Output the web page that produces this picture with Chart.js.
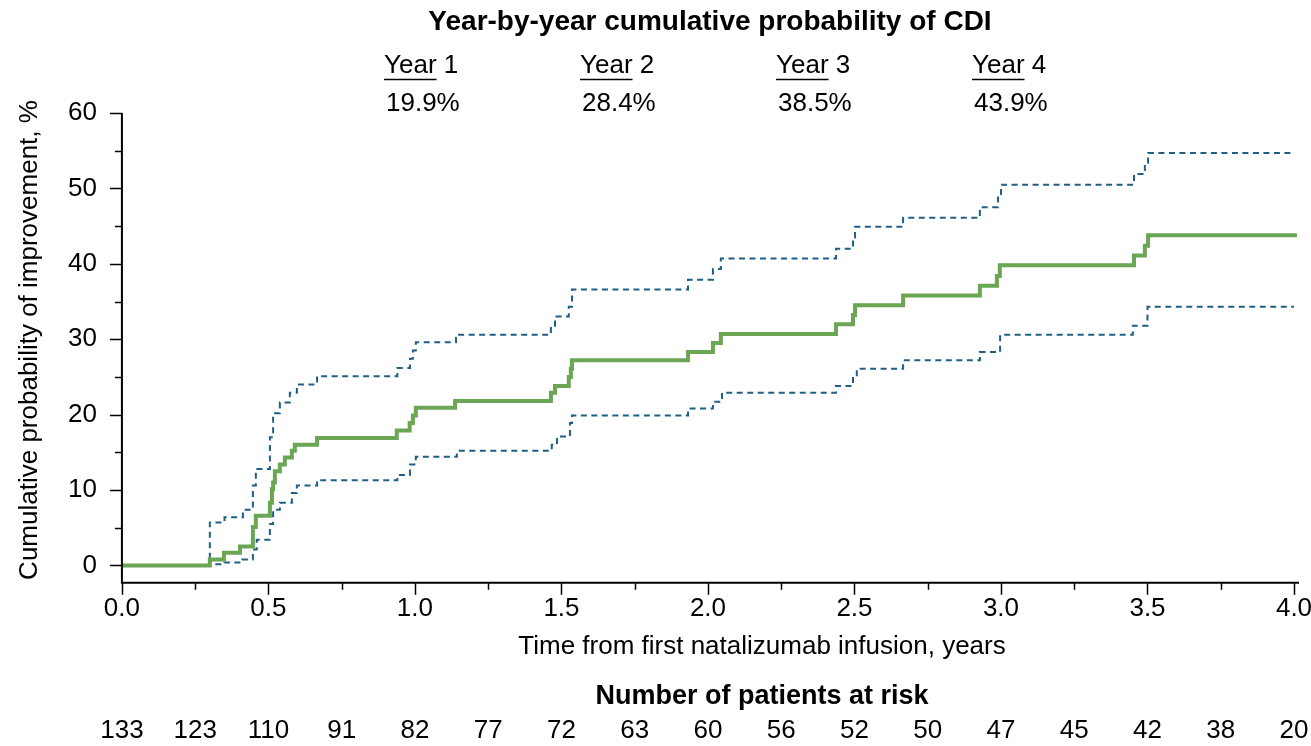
<!DOCTYPE html>
<html>
<head>
<meta charset="utf-8">
<script src="https://cdn.jsdelivr.net/npm/chart.js@4.4.1/dist/chart.umd.min.js"></script>
<style>
  html, body { margin: 0; padding: 0; background: #fff; }
</style>
</head>
<body>
<canvas id="kmChart" width="1311" height="746"></canvas>
<script>
// Kaplan-Meier style cumulative probability of CDI, with 95% CI bounds
const cdiTimes = [0, 0.30, 0.348, 0.403, 0.447, 0.457, 0.505, 0.512, 0.516, 0.522, 0.539, 0.556, 0.58, 0.59, 0.666,
  0.938, 0.982, 0.993, 1.003, 1.137, 1.464, 1.478, 1.525, 1.532, 1.536, 1.932, 2.017, 2.044, 2.437, 2.495, 2.502,
  2.666, 2.928, 2.986, 2.996, 3.454, 3.491, 3.502, 4.01];
const cdiValues = [0, 0.8, 1.7, 2.5, 5.1, 6.6, 8.3, 10.1, 11.0, 12.5, 13.4, 14.3, 15.2, 16.0, 16.9,
  17.9, 18.9, 19.9, 20.9, 21.8, 22.9, 23.8, 25.0, 26.1, 27.2, 28.3, 29.5, 30.7, 32.0, 33.2, 34.5,
  35.8, 37.1, 38.4, 39.8, 41.1, 42.4, 43.8, 43.8];

const upperTimes = [0, 0.30, 0.35, 0.413, 0.447, 0.457, 0.505, 0.516, 0.539, 0.573, 0.597, 0.666, 0.94, 0.983, 0.993,
  1.003, 1.14, 1.464, 1.478, 1.525, 1.536, 1.932, 2.017, 2.044, 2.437, 2.495, 2.502, 2.666, 2.928, 2.99, 3.0,
  3.454, 3.491, 3.502, 4.0];
const upperValues = [0, 5.7, 6.4, 7.4, 10.6, 12.8, 17.0, 20.2, 21.6, 22.9, 24.0, 25.1, 26.2, 27.4, 28.5,
  29.6, 30.6, 31.8, 33.0, 34.3, 36.6, 37.9, 39.3, 40.7, 42.0, 43.5, 44.9, 46.1, 47.5, 49.0, 50.5,
  51.9, 53.4, 54.7, 54.7];

const lowerTimes = [0, 0.30, 0.35, 0.41, 0.447, 0.46, 0.505, 0.516, 0.539, 0.58, 0.597, 0.666, 0.94, 0.983, 1.003,
  1.143, 1.467, 1.485, 1.529, 1.536, 1.932, 2.017, 2.048, 2.437, 2.495, 2.508, 2.666, 2.928, 2.997, 3.45, 3.50, 4.0];
const lowerValues = [0, 0.15, 0.4, 0.8, 2.1, 3.4, 5.5, 7.4, 8.3, 9.6, 10.6, 11.3, 12.0, 13.4, 14.4,
  15.2, 16.0, 17.1, 18.9, 19.9, 20.8, 21.7, 22.9, 23.8, 25.0, 26.1, 27.2, 28.3, 30.6, 31.8, 34.3, 34.3];

const xMajorTicks = [0, 0.5, 1.0, 1.5, 2.0, 2.5, 3.0, 3.5, 4.0];
const xMinorTicks = [0.25, 0.75, 1.25, 1.75, 2.25, 2.75, 3.25, 3.75];
const yMajorTicks = [0, 10, 20, 30, 40, 50, 60];
const yMinorTicks = [5, 15, 25, 35, 45, 55];

const riskTimes = [0, 0.25, 0.5, 0.75, 1.0, 1.25, 1.5, 1.75, 2.0, 2.25, 2.5, 2.75, 3.0, 3.25, 3.5, 3.75, 4.0];
const riskCounts = [133, 123, 110, 91, 82, 77, 72, 63, 60, 56, 52, 50, 47, 45, 42, 38, 20];

const yearLabels = ["1", "2", "3", "4"];
const yearValues = ["19.9%", "28.4%", "38.5%", "43.9%"];

const FONT = "'Liberation Sans', Arial, Helvetica, sans-serif";
const GREEN = "#6aa654";
const BLUE = "#1f5f85";

const toPoints = (xs, ys) => xs.map((x, i) => ({ x: x, y: ys[i] }));

const extrasPlugin = {
  id: "kmExtras",
  afterDraw(chart) {
    const ctx = chart.ctx;
    const xs = chart.scales.x;
    const ys = chart.scales.y;
    const area = chart.chartArea;
    ctx.save();
    ctx.strokeStyle = "#000";
    ctx.lineWidth = 2;
    ctx.lineCap = "butt";

    // axis lines
    ctx.beginPath();
    ctx.moveTo(area.left, ys.getPixelForValue(60));
    ctx.lineTo(area.left, area.bottom);
    ctx.lineTo(area.right + 5, area.bottom);
    ctx.stroke();

    // y ticks
    ctx.lineWidth = 1.5;
    yMajorTicks.forEach(v => {
      const y = Math.round(ys.getPixelForValue(v)) + 0.5;
      ctx.beginPath(); ctx.moveTo(area.left - 12, y); ctx.lineTo(area.left, y); ctx.stroke();
    });
    yMinorTicks.forEach(v => {
      const y = Math.round(ys.getPixelForValue(v)) + 0.5;
      ctx.beginPath(); ctx.moveTo(area.left - 7, y); ctx.lineTo(area.left, y); ctx.stroke();
    });
    // x ticks
    xMajorTicks.forEach(v => {
      const x = Math.round(xs.getPixelForValue(v)) + 0.5;
      ctx.beginPath(); ctx.moveTo(x, area.bottom); ctx.lineTo(x, area.bottom + 12); ctx.stroke();
    });
    xMinorTicks.forEach(v => {
      const x = Math.round(xs.getPixelForValue(v)) + 0.5;
      ctx.beginPath(); ctx.moveTo(x, area.bottom); ctx.lineTo(x, area.bottom + 7); ctx.stroke();
    });

    ctx.fillStyle = "#000";
    ctx.textBaseline = "middle";

    // y axis title
    ctx.save();
    ctx.translate(30, 340);
    ctx.rotate(-Math.PI / 2);
    ctx.textAlign = "center";
    ctx.font = "26px " + FONT;
    ctx.fillText("Cumulative probability of improvement, %", 0, 0);
    ctx.restore();

    // x axis title
    ctx.textAlign = "center";
    ctx.font = "26px " + FONT;
    ctx.fillText("Time from first natalizumab infusion, years", 762, 647);

    // header
    ctx.font = "bold 28px " + FONT;
    ctx.fillText("Year-by-year cumulative probability of CDI", 710, 22);
    ctx.textAlign = "left";
    ctx.font = "26px " + FONT;
    yearLabels.forEach((lab, i) => {
      const left = 384 + i * 196;
      const w = ctx.measureText("Year").width;
      ctx.fillText("Year " + lab, left, 66);
      ctx.beginPath();
      ctx.lineWidth = 1.5;
      ctx.moveTo(left, 79.5);
      ctx.lineTo(left + w, 79.5);
      ctx.stroke();
      ctx.fillText(yearValues[i], left + 2, 104);
    });

    // patients at risk
    ctx.textAlign = "center";
    ctx.font = "bold 27px " + FONT;
    ctx.fillText("Number of patients at risk", 762, 697);
    ctx.font = "26px " + FONT;
    riskTimes.forEach((t, i) => {
      ctx.fillText(String(riskCounts[i]), xs.getPixelForValue(t), 731);
    });
    ctx.restore();
  }
};

new Chart(document.getElementById("kmChart"), {
  type: "line",
  data: {
    datasets: [
      {
        data: toPoints(upperTimes, upperValues),
        borderColor: BLUE,
        borderWidth: 2,
        borderDash: [6, 4.5],
        stepped: true,
        pointRadius: 0,
        fill: false,
        clip: false,
        order: 2
      },
      {
        data: toPoints(lowerTimes, lowerValues),
        borderColor: BLUE,
        borderWidth: 2,
        borderDash: [6, 4.5],
        stepped: true,
        pointRadius: 0,
        fill: false,
        clip: false,
        order: 2
      },
      {
        data: toPoints(cdiTimes, cdiValues),
        borderColor: GREEN,
        borderWidth: 4,
        stepped: true,
        pointRadius: 0,
        fill: false,
        clip: false,
        order: 1
      }
    ]
  },
  options: {
    responsive: false,
    animation: false,
    events: [],
    layout: { padding: { top: 113, left: 43, right: 0, bottom: 112 } },
    plugins: { legend: { display: false }, tooltip: { enabled: false } },
    scales: {
      x: {
        type: "linear",
        min: 0,
        max: 4,
        afterBuildTicks: s => { s.ticks = xMajorTicks.map(v => ({ value: v })); },
        afterFit: s => { s.paddingRight = 17; },
        grid: { display: false, drawTicks: false },
        border: { display: false },
        ticks: {
          padding: 10,
          color: "#000",
          font: { family: FONT, size: 26 },
          maxRotation: 0,
          callback: v => Number(v).toFixed(1)
        }
      },
      y: {
        type: "linear",
        min: -2.3,
        max: 60,
        afterBuildTicks: s => { s.ticks = yMajorTicks.map(v => ({ value: v })); },
        grid: { display: false, drawTicks: false },
        border: { display: false },
        ticks: {
          padding: 25,
          color: "#000",
          font: { family: FONT, size: 26 },
          callback: v => String(v)
        }
      }
    }
  },
  plugins: [extrasPlugin]
});
</script>
</body>
</html>
